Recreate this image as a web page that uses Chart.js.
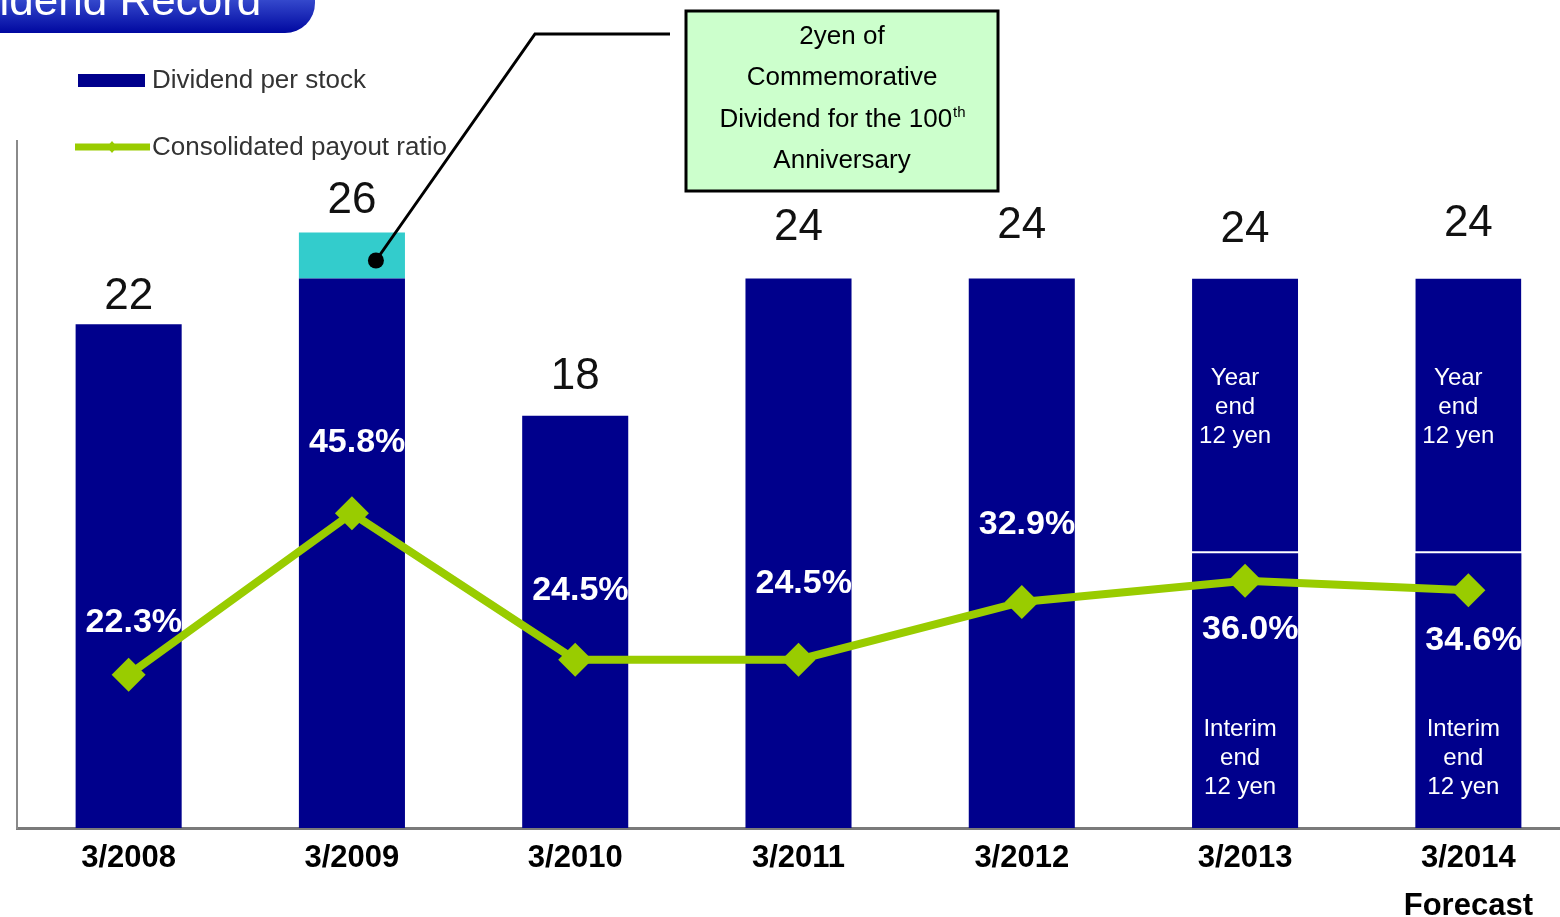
<!DOCTYPE html>
<html>
<head>
<meta charset="utf-8">
<script src="https://cdn.jsdelivr.net/npm/chart.js@4/dist/chart.umd.min.js"></script>
<style>
  html, body { margin: 0; padding: 0; background: #fff; overflow: hidden; }
  #wrap { width: 1597px; height: 917px; }
</style>
</head>
<body>
<div id="wrap"><canvas id="dividends" width="1597" height="917"></canvas></div>
<script>
// data
var periods = ['3/2008', '3/2009', '3/2010', '3/2011', '3/2012', '3/2013', '3/2014'];
var dividend = [22, 26, 18, 24, 24, 24, 24];          // yen per stock, total
var commemorative = [0, 2, 0, 0, 0, 0, 0];            // 100th anniversary part
var interim = [null, null, null, null, null, 12, 12]; // split shown for last two years
var payoutRatio = [22.3, 45.8, 24.5, 24.5, 32.9, 36.0, 34.6];
var forecastNote = 'Forecast';

var NAVY = '#00008c';
var TEAL = '#33cccc';
var GREEN = '#99cc00';
var FONT = '"Liberation Sans", Arial, sans-serif';

// stacked pieces built from the values above
var lowerPart = dividend.map(function(d, i) {
    return interim[i] != null ? interim[i] : d - commemorative[i];
});
var yearEndPart = dividend.map(function(d, i) {
    return interim[i] != null ? d - commemorative[i] - interim[i] : null;
});
var commemPart = commemorative.map(function(c) { return c > 0 ? c : null; });

var xLabels = periods.map(function(p, i) {
    return i === periods.length - 1 ? [p, forecastNote] : p;
});

// hand tuned text offsets (px), like the slide
var topLift = [27, 32, 39, 51, 53, 49, 55];
var pctShift = [-52, -71, -69, -76, -77, 49, 50];

var extras = {
    id: 'extras',
    beforeDraw: function(chart) {
        var c = chart.ctx;
        c.save();
        // title tab, cut off at the top left
        var g = c.createLinearGradient(0, 0, 0, 33);
        g.addColorStop(0, '#3448cc');
        g.addColorStop(1, '#0008a0');
        c.fillStyle = g;
        c.beginPath();
        c.moveTo(0, -5);
        c.lineTo(315, -5);
        c.lineTo(315, 3);
        c.arcTo(315, 33, 285, 33, 30);
        c.lineTo(0, 33);
        c.closePath();
        c.fill();
        c.fillStyle = '#fff';
        c.font = '44px ' + FONT;
        c.textBaseline = 'alphabetic';
        c.textAlign = 'left';
        c.fillText('Dividend Record', -64, 15);

        // legend
        c.fillStyle = NAVY;
        c.fillRect(78, 74, 67, 13);
        c.strokeStyle = GREEN;
        c.lineWidth = 7;
        c.beginPath();
        c.moveTo(75, 147);
        c.lineTo(150, 147);
        c.stroke();
        c.fillStyle = GREEN;
        c.beginPath();
        c.moveTo(112, 141); c.lineTo(117, 147); c.lineTo(112, 153); c.lineTo(107, 147);
        c.closePath();
        c.fill();
        c.fillStyle = '#333';
        c.font = '26px ' + FONT;
        c.textBaseline = 'middle';
        c.fillText('Dividend per stock', 152, 81);
        c.fillText('Consolidated payout ratio', 152, 148);
        c.restore();
    },
    afterDatasetsDraw: function(chart) {
        var c = chart.ctx;
        var y = chart.scales.y;
        var bars = chart.getDatasetMeta(0).data;
        var pts = chart.getDatasetMeta(3).data;
        c.save();
        c.textBaseline = 'middle';

        bars.forEach(function(bar, i) {
            var left = bar.x - bar.width / 2;
            var top = y.getPixelForValue(dividend[i]);

            // total above the bar
            c.fillStyle = '#111';
            c.textAlign = 'center';
            c.font = '44px ' + FONT;
            c.fillText(String(dividend[i]), bar.x, top - topLift[i]);

            // payout ratio, clipped to the bar
            c.save();
            c.beginPath();
            c.rect(left, chart.chartArea.top, bar.width, chart.chartArea.bottom - chart.chartArea.top);
            c.clip();
            c.fillStyle = '#fff';
            c.textAlign = 'left';
            c.font = 'bold 34px ' + FONT;
            c.fillText(payoutRatio[i].toFixed(1) + '%', left + 10, pts[i].y + pctShift[i]);
            c.restore();

            // year end / interim split
            if (interim[i] != null) {
                c.fillStyle = '#fff';
                c.textAlign = 'center';
                c.font = '24px ' + FONT;
                var yTop = top + 100;
                ['Year', 'end', yearEndPart[i] + ' yen'].forEach(function(t, k) {
                    c.fillText(t, bar.x - 10, yTop + k * 29);
                });
                var yBot = y.getPixelForValue(0) - 99;
                ['Interim', 'end', interim[i] + ' yen'].forEach(function(t, k) {
                    c.fillText(t, bar.x - 5, yBot + k * 29);
                });
            }
        });

        // callout to the commemorative part
        var cb = chart.getDatasetMeta(2).data[1];
        var dotX = cb.x + 24;
        var dotY = (cb.y + cb.base) / 2 + 5;
        c.strokeStyle = '#000';
        c.lineWidth = 3;
        c.beginPath();
        c.moveTo(dotX, dotY);
        c.lineTo(535, 34);
        c.lineTo(670, 34);
        c.stroke();
        c.fillStyle = '#000';
        c.beginPath();
        c.arc(dotX, dotY, 8, 0, Math.PI * 2);
        c.fill();

        // note box
        c.fillStyle = '#ccffcc';
        c.fillRect(686, 11, 312, 180);
        c.lineWidth = 3;
        c.strokeRect(686, 11, 312, 180);
        c.fillStyle = '#000';
        c.font = '26px ' + FONT;
        c.textAlign = 'center';
        c.fillText('2yen of', 842, 37);
        c.fillText('Commemorative', 842, 78);
        c.fillText('Anniversary', 842, 161);
        var main = 'Dividend for the 100';
        var w1 = c.measureText(main).width;
        c.font = '15px ' + FONT;
        var w2 = c.measureText('th').width;
        var x0 = 842 - (w1 + w2) / 2;
        c.textAlign = 'left';
        c.fillText('th', x0 + w1 + 1, 113);
        c.font = '26px ' + FONT;
        c.fillText(main, x0, 120);
        c.restore();
    }
};

new Chart(document.getElementById('dividends'), {
    type: 'bar',
    data: {
        labels: xLabels,
        datasets: [
            {
                label: 'Dividend per stock',
                data: lowerPart,
                backgroundColor: NAVY,
                borderWidth: 0,
                order: 1
            },
            {
                label: 'Year end',
                data: yearEndPart,
                backgroundColor: NAVY,
                borderColor: '#ffffff',
                borderWidth: {top: 0, left: 0, right: 0, bottom: 2},
                borderSkipped: false,
                order: 1
            },
            {
                label: 'Commemorative',
                data: commemPart,
                backgroundColor: TEAL,
                borderWidth: 0,
                order: 1
            },
            {
                type: 'line',
                label: 'Consolidated payout ratio',
                data: payoutRatio,
                yAxisID: 'y2',
                borderColor: GREEN,
                borderWidth: 8,
                pointStyle: 'rectRot',
                pointRadius: 17,
                pointBackgroundColor: GREEN,
                pointBorderColor: GREEN,
                pointBorderWidth: 0,
                tension: 0,
                order: 0
            }
        ]
    },
    options: {
        responsive: false,
        animation: false,
        layout: {
            padding: {left: 16, top: 141, right: 0, bottom: 0}
        },
        datasets: {
            bar: {barPercentage: 0.475, categoryPercentage: 1}
        },
        plugins: {
            legend: {display: false},
            tooltip: {enabled: false}
        },
        scales: {
            x: {
                stacked: true,
                grid: {display: false, drawTicks: false},
                border: {display: true, color: '#7a7a7a', width: 3},
                ticks: {
                    color: '#000',
                    padding: 6,
                    maxRotation: 0,
                    autoSkip: false,
                    font: {family: FONT, size: 31, weight: 'bold', lineHeight: 1.55}
                },
                afterFit: function(s) { s.height = 89; }
            },
            y: {
                stacked: true,
                min: 0,
                max: 30,
                grid: {display: false, drawTicks: false},
                border: {display: true, color: '#8a8a8a', width: 2},
                ticks: {display: false},
                afterFit: function(s) { s.width = 0; }
            },
            y2: {
                display: false,
                min: 0,
                max: 100
            }
        }
    },
    plugins: [extras]
});
</script>
</body>
</html>
